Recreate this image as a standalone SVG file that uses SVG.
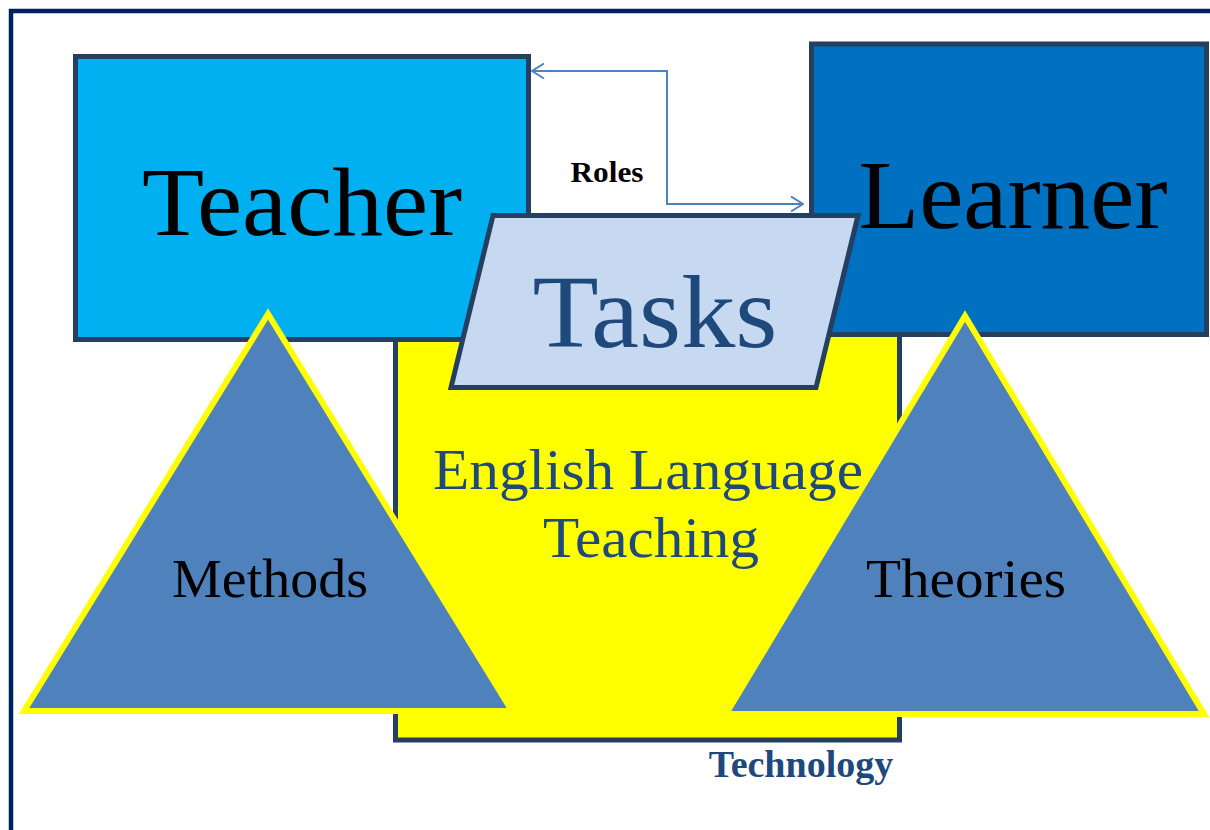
<svg xmlns="http://www.w3.org/2000/svg" width="1210" height="830" viewBox="0 0 1210 830">
<style>
.box{stroke:#243f60;stroke-width:5}
.tri{fill:#4f81bd;stroke:#ffff00;stroke-width:6;stroke-linejoin:miter}
.big{font-family:"Liberation Serif","Times New Roman",serif;text-anchor:middle}
.conn{fill:none;stroke:#4f81bd;stroke-width:2}
</style>
<defs>
<marker id="arr" viewBox="0 0 14 17" refX="13" refY="8.5" markerWidth="14" markerHeight="17" markerUnits="userSpaceOnUse" orient="auto-start-reverse">
<path d="M1,1 L13,8.5 L1,16" fill="none" stroke="#4f81bd" stroke-width="2"/>
</marker>
</defs>
<rect width="1210" height="830" fill="#ffffff"/>
<g id="frame">
<path d="M11,830 V11 H1210" fill="none" stroke="#002060" stroke-width="4.5"/>
</g>
<g id="elt">
<rect class="box" x="395.5" y="290" width="504" height="450" fill="#ffff00"/>
</g>
<g id="teacher">
<rect class="box" x="75.5" y="56.5" width="453" height="283" fill="#00b0f0"/>
<text class="big" x="302" y="235" font-size="97" fill="#000000" textLength="320" lengthAdjust="spacingAndGlyphs">Teacher</text>
</g>
<g id="learner">
<rect class="box" x="811.5" y="44" width="395" height="290.5" fill="#0070c0"/>
<text class="big" x="1013" y="228" font-size="97" fill="#000000" textLength="309" lengthAdjust="spacingAndGlyphs">Learner</text>
</g>
<g id="connectors">
<path class="conn" d="M532,71 H667 V204 H803" marker-start="url(#arr)" marker-end="url(#arr)"/>
<text x="607" y="182" font-family="Liberation Serif,serif" font-weight="bold" font-size="30" text-anchor="middle" fill="#000000" textLength="73" lengthAdjust="spacingAndGlyphs">Roles</text>
</g>
<g id="tasks">
<polygon class="box" points="493,215.5 858,215.5 816,387.5 451,387.5" fill="#c6d9f1"/>
<text class="big" x="655" y="347" font-size="103" fill="#1f497d" textLength="245" lengthAdjust="spacingAndGlyphs">Tasks</text>
</g>
<g id="elt-label">
<text class="big" x="648" y="489" font-size="58" fill="#1f497d" textLength="430" lengthAdjust="spacingAndGlyphs">English Language</text>
<text class="big" x="651" y="557" font-size="58" fill="#1f497d" textLength="216" lengthAdjust="spacingAndGlyphs">Teaching</text>
</g>
<g id="methods">
<polygon class="tri" points="268,314 24,711 512,711"/>
<text class="big" x="270" y="597" font-size="55" fill="#000000" textLength="196" lengthAdjust="spacingAndGlyphs">Methods</text>
</g>
<g id="theories">
<polygon class="tri" points="965,316 726,714 1204,714"/>
<text class="big" x="966" y="597" font-size="55" fill="#000000" textLength="200" lengthAdjust="spacingAndGlyphs">Theories</text>
</g>
<g id="technology">
<text x="801" y="777" font-family="Liberation Serif,serif" font-weight="bold" font-size="38" text-anchor="middle" fill="#1f497d">Technology</text>
</g>
</svg>
